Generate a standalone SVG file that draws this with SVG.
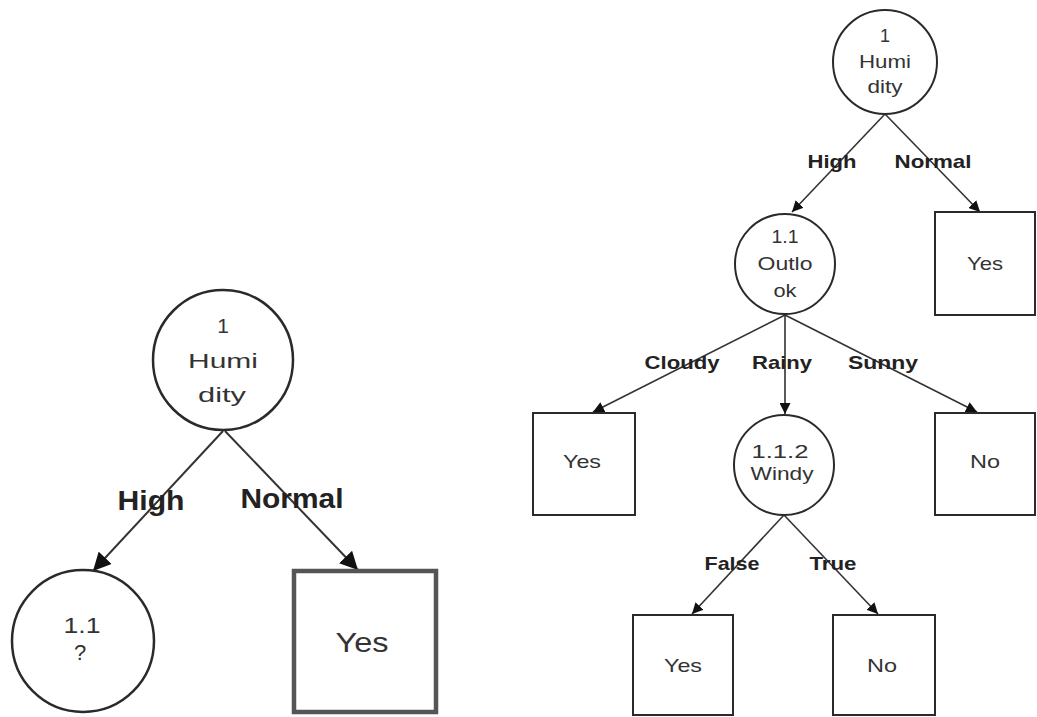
<svg xmlns="http://www.w3.org/2000/svg" width="1037" height="717" viewBox="0 0 1037 717">
<style>
.bg{fill:#fff}
.nd{fill:#fff;stroke:#2a2a2a;stroke-width:2}
.ndL{fill:#fff;stroke:#2a2a2a;stroke-width:2.5}
.boxL{fill:#fff;stroke:#555;stroke-width:4.5}
.t{font-family:"Liberation Sans",Arial,sans-serif;fill:#333;text-anchor:middle}
.e{font-family:"Liberation Sans",Arial,sans-serif;font-weight:bold;fill:#222;text-anchor:middle}
.ln{stroke:#333;stroke-width:1.6;fill:none;marker-end:url(#ah)}
.lnL{stroke:#333;stroke-width:2;fill:none;marker-end:url(#ahL)}
</style>
<defs>
<marker id="ah" viewBox="0 0 10 10" refX="10" refY="5" markerWidth="11" markerHeight="11" markerUnits="userSpaceOnUse" orient="auto"><path d="M0,0 L10,5 L0,10 z" fill="#111"/></marker>
<marker id="ahL" viewBox="0 0 10 10" refX="10" refY="5" markerWidth="18" markerHeight="18" markerUnits="userSpaceOnUse" orient="auto"><path d="M0,0 L10,5 L0,10 z" fill="#111"/></marker>
</defs>
<rect class="bg" x="0" y="0" width="1037" height="717"/>

<g id="connectors">
<line class="lnL" x1="223" y1="431" x2="93" y2="571"/>
<line class="lnL" x1="225" y1="431" x2="358" y2="570"/>
<line class="ln" x1="885" y1="114" x2="792" y2="212"/>
<line class="ln" x1="885" y1="114" x2="980" y2="212"/>
<line class="ln" x1="785" y1="315" x2="593" y2="412"/>
<line class="ln" x1="785" y1="315" x2="785" y2="414"/>
<line class="ln" x1="785" y1="315" x2="977" y2="412"/>
<line class="ln" x1="784" y1="515" x2="692" y2="614"/>
<line class="ln" x1="784" y1="515" x2="878" y2="614"/>
</g>

<g id="edge-labels">
<text class="e" x="151" y="510" font-size="27" textLength="67" lengthAdjust="spacingAndGlyphs">High</text>
<text class="e" x="292" y="508" font-size="27" textLength="103" lengthAdjust="spacingAndGlyphs">Normal</text>
<text class="e" x="832" y="168" font-size="19" textLength="49" lengthAdjust="spacingAndGlyphs">High</text>
<text class="e" x="933" y="168" font-size="19" textLength="77" lengthAdjust="spacingAndGlyphs">Normal</text>
<text class="e" x="682" y="369" font-size="19" textLength="75" lengthAdjust="spacingAndGlyphs">Cloudy</text>
<text class="e" x="782" y="369" font-size="19" textLength="60" lengthAdjust="spacingAndGlyphs">Rainy</text>
<text class="e" x="883" y="369" font-size="19" textLength="70" lengthAdjust="spacingAndGlyphs">Sunny</text>
<text class="e" x="732" y="570" font-size="19" textLength="55" lengthAdjust="spacingAndGlyphs">False</text>
<text class="e" x="833" y="570" font-size="19" textLength="47" lengthAdjust="spacingAndGlyphs">True</text>
</g>

<g id="left-root">
<circle class="ndL" cx="223" cy="360" r="70"/>
<text class="t" x="223" y="333" font-size="21">1</text>
<text class="t" x="223" y="368" font-size="21" textLength="70" lengthAdjust="spacingAndGlyphs">Humi</text>
<text class="t" x="222" y="402" font-size="21" textLength="48" lengthAdjust="spacingAndGlyphs">dity</text>
</g>
<g id="left-1-1">
<circle class="ndL" cx="83" cy="641" r="71"/>
<text class="t" x="82" y="633" font-size="22" textLength="37" lengthAdjust="spacingAndGlyphs">1.1</text>
<text class="t" x="80" y="660" font-size="22">?</text>
</g>
<g id="left-yes">
<rect class="boxL" x="294" y="571" width="142" height="141"/>
<text class="t" x="362" y="652" font-size="28" textLength="53" lengthAdjust="spacingAndGlyphs">Yes</text>
</g>

<g id="right-root">
<circle class="nd" cx="885" cy="62" r="52"/>
<text class="t" x="885" y="42" font-size="18">1</text>
<text class="t" x="885" y="68" font-size="18" textLength="52" lengthAdjust="spacingAndGlyphs">Humi</text>
<text class="t" x="885" y="93" font-size="18" textLength="35" lengthAdjust="spacingAndGlyphs">dity</text>
</g>
<g id="right-yes-1">
<rect class="nd" x="935" y="212" width="100" height="103"/>
<text class="t" x="985" y="270" font-size="19" textLength="36" lengthAdjust="spacingAndGlyphs">Yes</text>
</g>
<g id="right-outlook">
<circle class="nd" cx="785" cy="264" r="50"/>
<text class="t" x="785" y="243" font-size="18" textLength="27" lengthAdjust="spacingAndGlyphs">1.1</text>
<text class="t" x="785" y="270" font-size="18" textLength="55" lengthAdjust="spacingAndGlyphs">Outlo</text>
<text class="t" x="785" y="297" font-size="18" textLength="23" lengthAdjust="spacingAndGlyphs">ok</text>
</g>
<g id="right-yes-2">
<rect class="nd" x="533" y="413" width="102" height="102"/>
<text class="t" x="582" y="468" font-size="19" textLength="38" lengthAdjust="spacingAndGlyphs">Yes</text>
</g>
<g id="right-windy">
<circle class="nd" cx="784" cy="465" r="50"/>
<text class="t" x="780" y="458" font-size="18" textLength="57" lengthAdjust="spacingAndGlyphs">1.1.2</text>
<text class="t" x="782" y="480" font-size="18" textLength="63" lengthAdjust="spacingAndGlyphs">Windy</text>
</g>
<g id="right-no-1">
<rect class="nd" x="935" y="413" width="100" height="102"/>
<text class="t" x="985" y="468" font-size="19" textLength="30" lengthAdjust="spacingAndGlyphs">No</text>
</g>
<g id="right-yes-3">
<rect class="nd" x="633" y="615" width="100" height="100"/>
<text class="t" x="683" y="672" font-size="19" textLength="38" lengthAdjust="spacingAndGlyphs">Yes</text>
</g>
<g id="right-no-2">
<rect class="nd" x="833" y="615" width="102" height="100"/>
<text class="t" x="882" y="672" font-size="19" textLength="30" lengthAdjust="spacingAndGlyphs">No</text>
</g>
</svg>
